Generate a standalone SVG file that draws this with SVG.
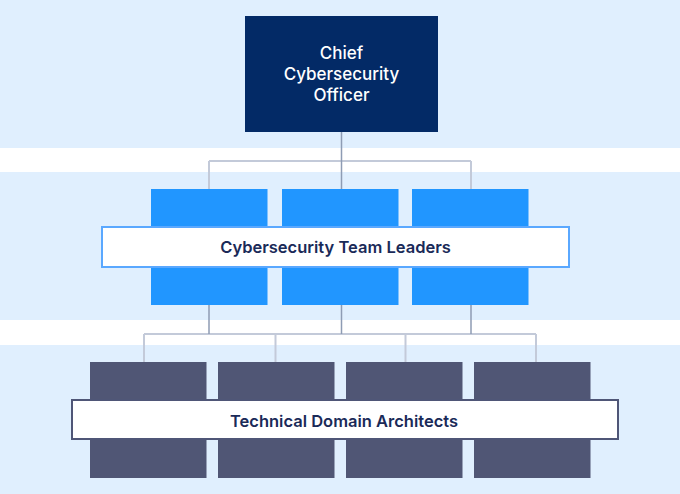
<svg xmlns="http://www.w3.org/2000/svg" width="680" height="494" viewBox="0 0 680 494">
<style>
.band{fill:#e0effe}
.lbl{font-family:Inter,"Open Sans","Liberation Sans",sans-serif;font-weight:600;font-size:16.5px;fill:#1a2a58;text-anchor:middle}
.cco{font-family:Inter,"Open Sans","Liberation Sans",sans-serif;font-weight:500;font-size:17px;fill:#ffffff;text-anchor:middle}
.blue{fill:#2196ff}
.dark{fill:#505675}
.vl{stroke:#8e9cb4;stroke-width:1.5;fill:none}
.hl{stroke:#c3cad9;stroke-width:2;fill:none}
</style>
<rect x="0" y="0" width="680" height="494" fill="#ffffff"/>
<rect class="band" x="0" y="0" width="680" height="148"/>
<rect class="band" x="0" y="172" width="680" height="148"/>
<rect class="band" x="0" y="345" width="680" height="149"/>
<g id="connectors">
<path class="hl" d="M209,161 H471 M144,334 H536"/>
<path class="hl" d="M209,161 V189 M471,161 V189 M144,334 V362 M275.5,334 V362 M405.5,334 V362 M536,334 V362"/>
<path class="vl" d="M341.5,132 V189 M209,305 V334 M341.5,305 V334 M471,305 V334"/>
</g>
<g id="cco">
<rect x="245" y="16" width="193" height="116" fill="#032a66"/>
<text class="cco" x="341.5" y="59">Chief</text>
<text class="cco" x="341.5" y="80">Cybersecurity</text>
<text class="cco" x="341.5" y="101">Officer</text>
</g>
<g id="team-leaders">
<rect class="blue" x="151" y="189" width="116.5" height="116"/>
<rect class="blue" x="282" y="189" width="116.5" height="116"/>
<rect class="blue" x="412" y="189" width="116.5" height="116"/>
<rect x="102" y="227" width="467" height="40" fill="#ffffff" stroke="#5aa8ff" stroke-width="2"/>
<text class="lbl" x="335.5" y="253">Cybersecurity Team Leaders</text>
</g>
<g id="architects">
<rect class="dark" x="90" y="362" width="116.5" height="116"/>
<rect class="dark" x="218" y="362" width="116.5" height="116"/>
<rect class="dark" x="346" y="362" width="116.5" height="116"/>
<rect class="dark" x="474" y="362" width="116.5" height="116"/>
<rect x="72" y="400" width="546" height="39" fill="#ffffff" stroke="#4f5677" stroke-width="2"/>
<text class="lbl" x="344" y="426.5">Technical Domain Architects</text>
</g>
</svg>
